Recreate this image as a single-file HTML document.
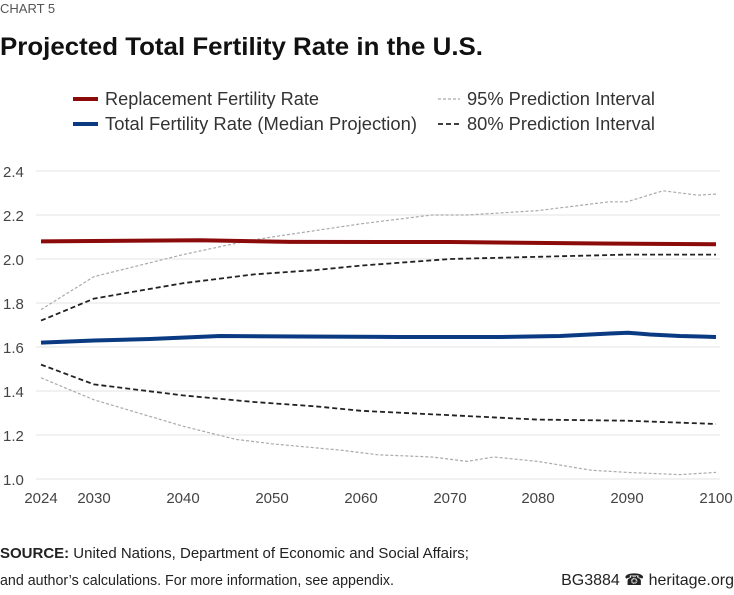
<!DOCTYPE html>
<html><head><meta charset="utf-8"><style>
body{margin:0;width:734px;height:590px;background:#fff;font-family:"Liberation Sans",sans-serif;overflow:hidden}
</style></head><body>
<svg width="734" height="590" xmlns="http://www.w3.org/2000/svg" font-family="Liberation Sans, sans-serif">
<text x="0" y="13" font-size="13" fill="#555">CHART 5</text>
<text x="0" y="55" font-size="25" font-weight="bold" fill="#111" textLength="483" lengthAdjust="spacingAndGlyphs">Projected Total Fertility Rate in the U.S.</text>
<g font-size="18" fill="#333">
<line x1="73" y1="99" x2="98" y2="99" stroke="#8b0a0a" stroke-width="4"/>
<text x="105" y="105" textLength="214" lengthAdjust="spacingAndGlyphs">Replacement Fertility Rate</text>
<line x1="73" y1="124" x2="98" y2="124" stroke="#0a3a82" stroke-width="4"/>
<text x="105" y="130" textLength="312" lengthAdjust="spacingAndGlyphs">Total Fertility Rate (Median Projection)</text>
<line x1="438" y1="99" x2="460" y2="99" stroke="#aaa" stroke-width="1.2" stroke-dasharray="3,2"/>
<text x="467" y="105" textLength="188" lengthAdjust="spacingAndGlyphs">95% Prediction Interval</text>
<line x1="438" y1="124" x2="460" y2="124" stroke="#222" stroke-width="1.8" stroke-dasharray="5,3"/>
<text x="467" y="130" textLength="188" lengthAdjust="spacingAndGlyphs">80% Prediction Interval</text>
</g>
<g stroke="#e3e3e3" stroke-width="1">
<line x1="36" y1="171" x2="720" y2="171"/><line x1="36" y1="215" x2="720" y2="215"/>
<line x1="36" y1="259" x2="720" y2="259"/><line x1="36" y1="303" x2="720" y2="303"/>
<line x1="36" y1="347" x2="720" y2="347"/><line x1="36" y1="391" x2="720" y2="391"/>
<line x1="36" y1="435" x2="720" y2="435"/><line x1="36" y1="479" x2="720" y2="479"/>
</g>
<g font-size="15" fill="#444">
<text x="3" y="177">2.4</text><text x="3" y="221">2.2</text><text x="3" y="265">2.0</text>
<text x="3" y="309">1.8</text><text x="3" y="353">1.6</text><text x="3" y="397">1.4</text>
<text x="3" y="441">1.2</text><text x="3" y="485">1.0</text>
</g>
<g font-size="15" fill="#444" text-anchor="middle">
<text x="41" y="503">2024</text><text x="94" y="503">2030</text><text x="183" y="503">2040</text>
<text x="272" y="503">2050</text><text x="361" y="503">2060</text><text x="450" y="503">2070</text>
<text x="538" y="503">2080</text><text x="627" y="503">2090</text><text x="716" y="503">2100</text>
</g>
<g fill="none" stroke-linejoin="round">
<polyline stroke="#aaa" stroke-width="1.2" stroke-dasharray="3,2" points="41,309.6 94,276.6 183,254.6 245,241.4 272,237 361,223.8 432,215 467,215 538,210.6 609,201.8 627,201.8 663,190.8 698,195.2 716,194.1"/>
<polyline stroke="#aaa" stroke-width="1.2" stroke-dasharray="3,2" points="41,377.8 94,399.8 183,426.2 236,439.4 272,443.8 343,450.4 378,454.8 432,457 467,461.4 494,457 538,461.4 591,470.2 627,472.4 680,474.6 716,472.4"/>
<polyline stroke="#222" stroke-width="1.8" stroke-dasharray="5,3" points="41,320.6 94,298.6 183,283.2 254,274.4 316,270 361,265.6 450,259 538,256.8 627,254.6 716,254.6"/>
<polyline stroke="#222" stroke-width="1.8" stroke-dasharray="5,3" points="41,364.6 94,384.4 183,395.4 254,402 316,406.4 361,410.8 450,415.2 538,419.6 627,420.7 716,424"/>
<polyline stroke="#8b0a0a" stroke-width="4" points="41,241.4 200,240.3 290,241.9 450,242 600,243.5 716,244.3"/>
<polyline stroke="#0a3a82" stroke-width="4" points="41,342.6 94,340.5 150,339 220,336 300,336.5 400,337 500,337 560,336 610,333.5 628,332.7 650,334.5 680,336 700,336.5 716,337"/>
</g>
<g font-size="15" fill="#222">
<text x="0" y="558" textLength="469" lengthAdjust="spacingAndGlyphs"><tspan font-weight="bold">SOURCE:</tspan> United Nations, Department of Economic and Social Affairs;</text>
<text x="0" y="585" textLength="394" lengthAdjust="spacingAndGlyphs">and author’s calculations. For more information, see appendix.</text>
</g>
<text x="734" y="585" font-size="16" fill="#222" text-anchor="end">BG3884 &#9742; heritage.org</text>
</svg>
</body></html>
